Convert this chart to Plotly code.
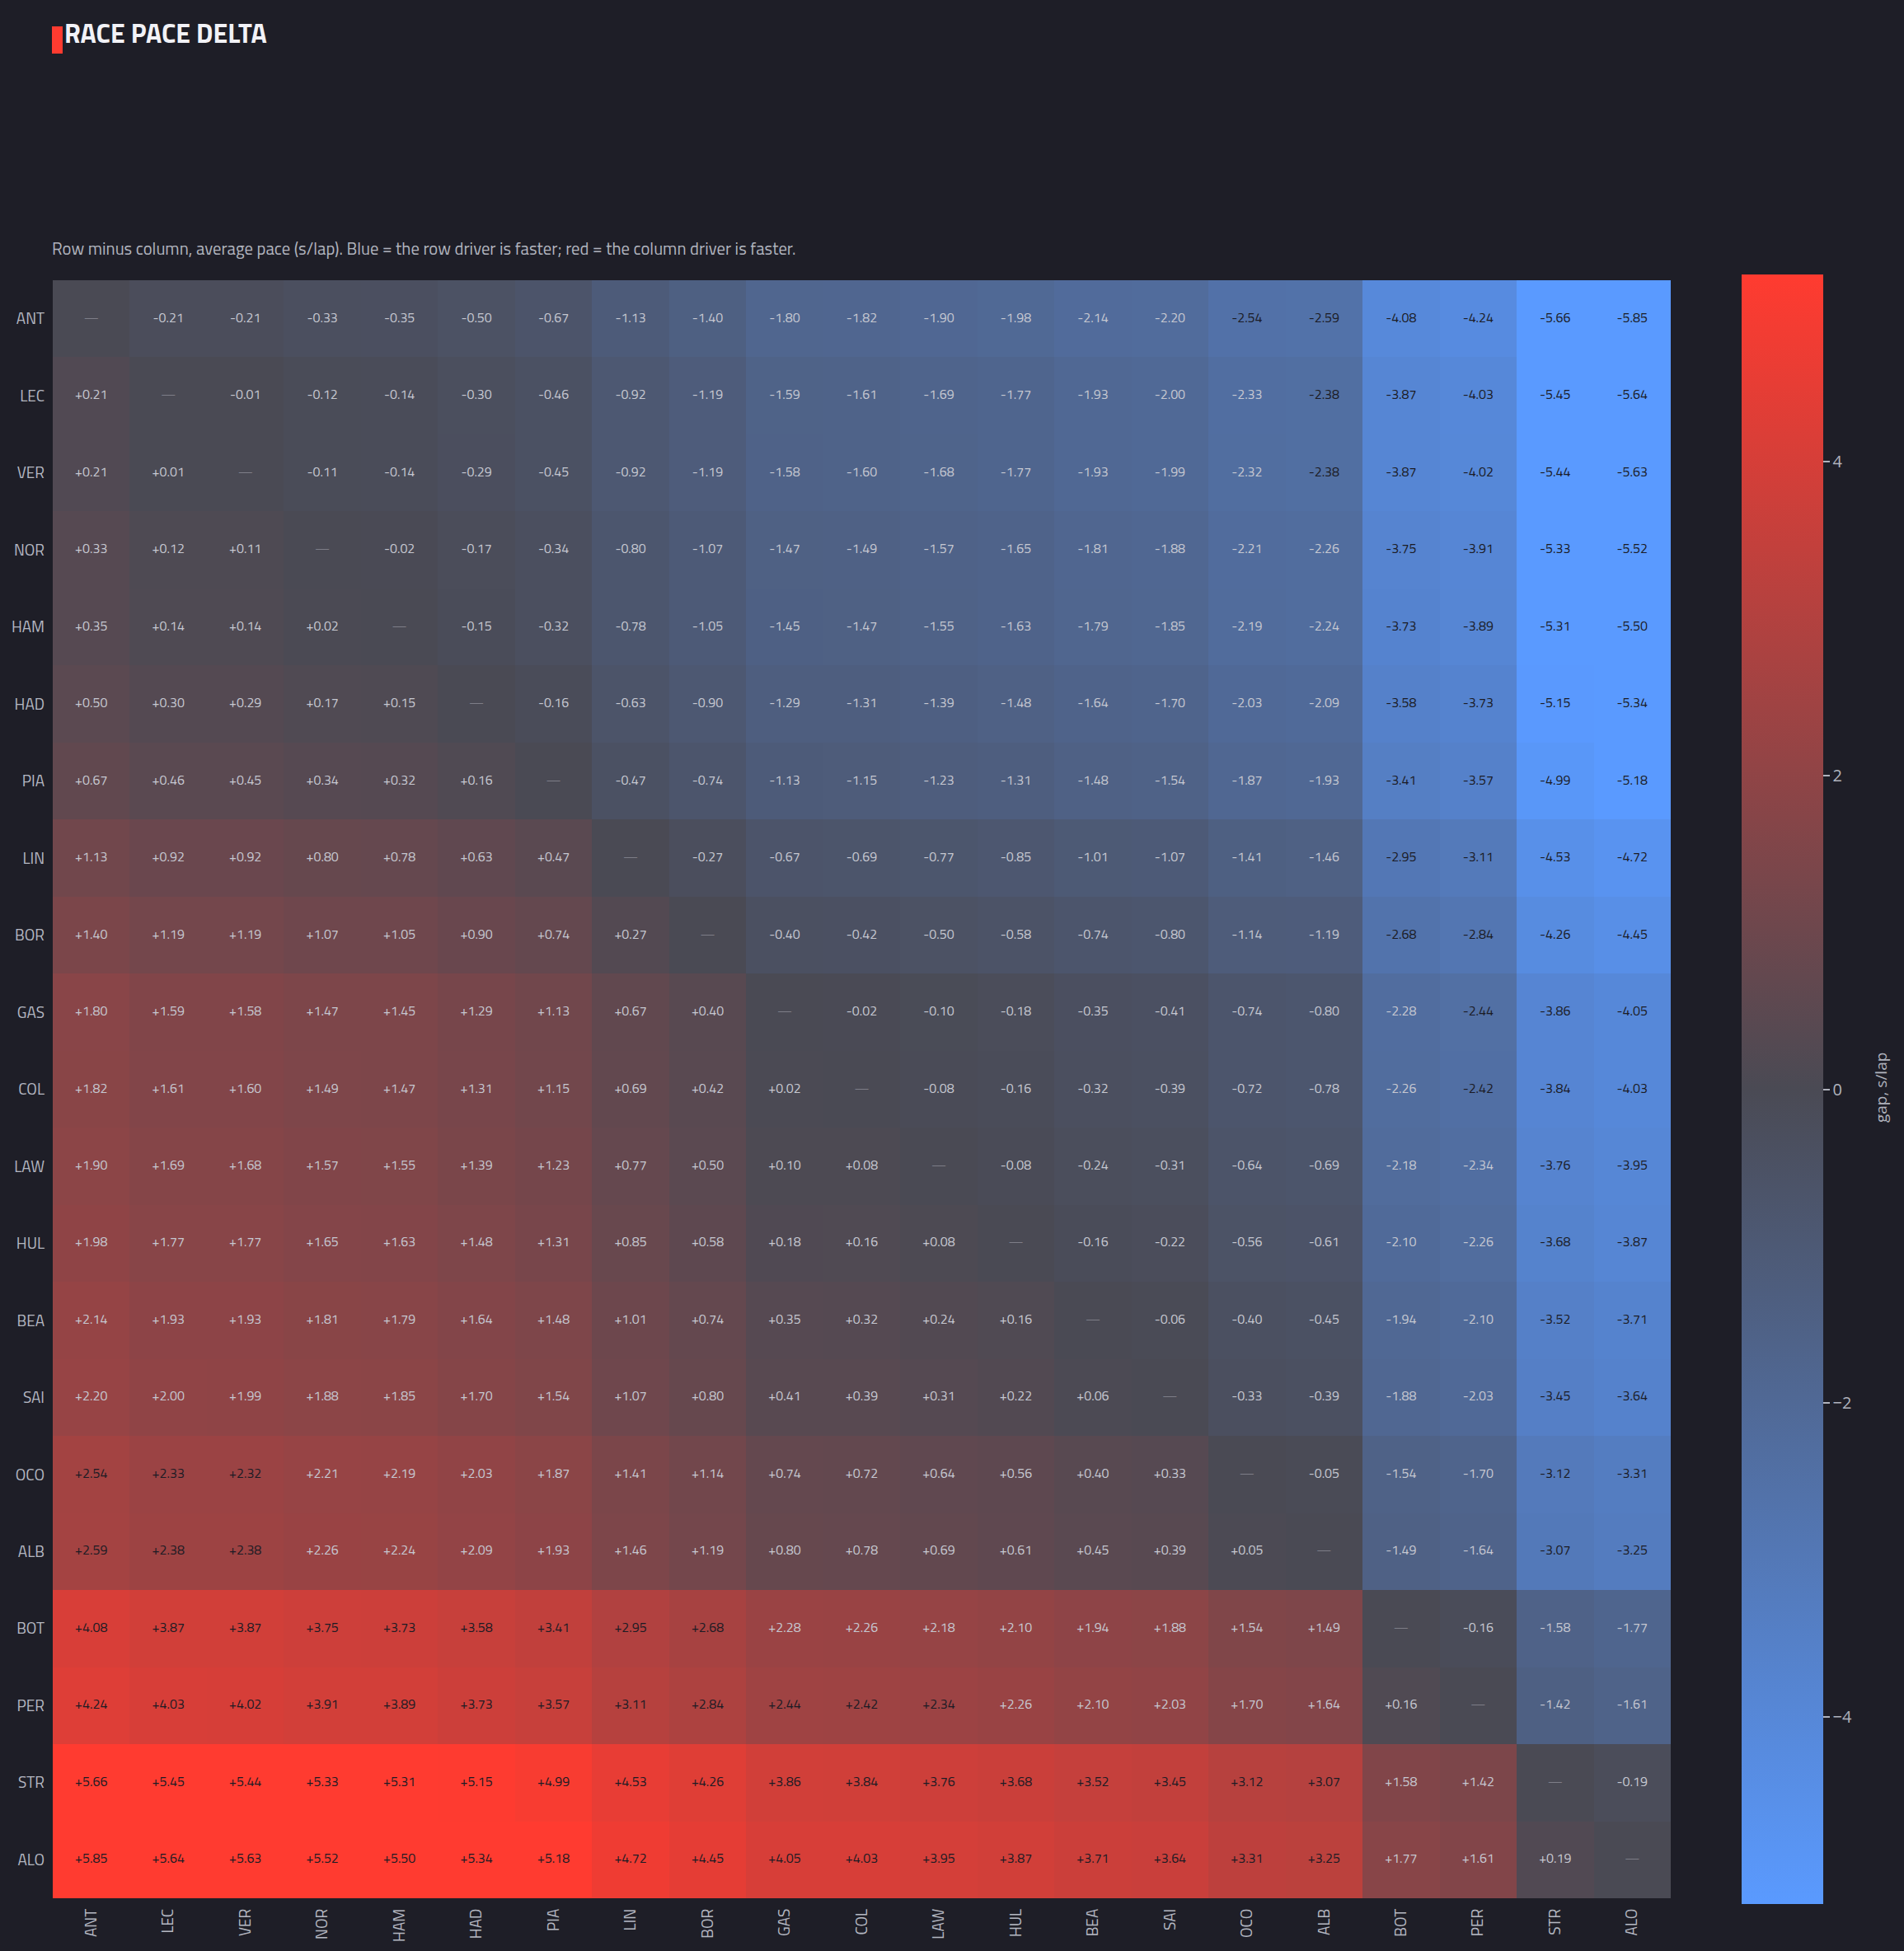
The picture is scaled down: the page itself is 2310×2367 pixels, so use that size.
import plotly.graph_objects as go

drivers = ["ANT", "LEC", "VER", "NOR", "HAM", "HAD", "PIA", "LIN", "BOR", "GAS", "COL",
           "LAW", "HUL", "BEA", "SAI", "OCO", "ALB", "BOT", "PER", "STR", "ALO"]

# Upper triangle (row minus column), row i, columns i+1 .. end
upper = [
    [-0.21, -0.21, -0.33, -0.35, -0.50, -0.67, -1.13, -1.40, -1.80, -1.82, -1.90, -1.98, -2.14, -2.20, -2.54, -2.59, -4.08, -4.24, -5.66, -5.85],
    [-0.01, -0.12, -0.14, -0.30, -0.46, -0.92, -1.19, -1.59, -1.61, -1.69, -1.77, -1.93, -2.00, -2.33, -2.38, -3.87, -4.03, -5.45, -5.64],
    [-0.11, -0.14, -0.29, -0.45, -0.92, -1.19, -1.58, -1.60, -1.68, -1.77, -1.93, -1.99, -2.32, -2.38, -3.87, -4.02, -5.44, -5.63],
    [-0.02, -0.17, -0.34, -0.80, -1.07, -1.47, -1.49, -1.57, -1.65, -1.81, -1.88, -2.21, -2.26, -3.75, -3.91, -5.33, -5.52],
    [-0.15, -0.32, -0.78, -1.05, -1.45, -1.47, -1.55, -1.63, -1.79, -1.85, -2.19, -2.24, -3.73, -3.89, -5.31, -5.50],
    [-0.16, -0.63, -0.90, -1.29, -1.31, -1.39, -1.48, -1.64, -1.70, -2.03, -2.09, -3.58, -3.73, -5.15, -5.34],
    [-0.47, -0.74, -1.13, -1.15, -1.23, -1.31, -1.48, -1.54, -1.87, -1.93, -3.41, -3.57, -4.99, -5.18],
    [-0.27, -0.67, -0.69, -0.77, -0.85, -1.01, -1.07, -1.41, -1.46, -2.95, -3.11, -4.53, -4.72],
    [-0.40, -0.42, -0.50, -0.58, -0.74, -0.80, -1.14, -1.19, -2.68, -2.84, -4.26, -4.45],
    [-0.02, -0.10, -0.18, -0.35, -0.41, -0.74, -0.80, -2.28, -2.44, -3.86, -4.05],
    [-0.08, -0.16, -0.32, -0.39, -0.72, -0.78, -2.26, -2.42, -3.84, -4.03],
    [-0.08, -0.24, -0.31, -0.64, -0.69, -2.18, -2.34, -3.76, -3.95],
    [-0.16, -0.22, -0.56, -0.61, -2.10, -2.26, -3.68, -3.87],
    [-0.06, -0.40, -0.45, -1.94, -2.10, -3.52, -3.71],
    [-0.33, -0.39, -1.88, -2.03, -3.45, -3.64],
    [-0.05, -1.54, -1.70, -3.12, -3.31],
    [-1.49, -1.64, -3.07, -3.25],
    [-0.16, -1.58, -1.77],
    [-1.42, -1.61],
    [-0.19],
]

colorbar_ticks = [-4, -2, 0, 2, 4]

BG = "#1e1e27"
FONT = "Titillium Web, Liberation Sans Narrow, Roboto Condensed, Arial Narrow, Roboto, sans-serif"
LIGHT_TXT = "#c6c8d1"
DARK_TXT = "#1b1b24"
DIAG_TXT = "#7e7e88"
AXIS_TXT = "#b5b8c2"

n = len(drivers)
z = [[0.0] * n for _ in range(n)]
for i in range(n):
    for k, v in enumerate(upper[i] if i < len(upper) else []):
        j = i + 1 + k
        z[i][j] = v
        z[j][i] = -v

tx, ty, tt, tc = [], [], [], []
for i in range(n):
    for j in range(n):
        tx.append(drivers[j])
        ty.append(drivers[i])
        if i == j:
            tt.append("—")
            tc.append(DIAG_TXT)
        else:
            v = z[i][j]
            tt.append(f"{v:+.2f}")
            tc.append(DARK_TXT if (v >= 2.30 or v <= -2.35) else LIGHT_TXT)

fig = go.Figure()
fig.add_trace(go.Heatmap(
    z=z, x=drivers, y=drivers,
    zmin=-5.19, zmax=5.19,
    colorscale=[[0.0, "#5a9aff"], [0.5, "#4a4a54"], [1.0, "#ff3b30"]],
    hoverinfo="skip",
    colorbar=dict(
        x=1.0438, xanchor="left", xpad=0, y=0.5, yanchor="middle",
        len=1.007, ypad=0, thickness=99, outlinewidth=0,
        ticks="outside", ticklen=8, tickwidth=2, tickcolor="#b0b3bd",
        tickvals=colorbar_ticks,
        tickfont=dict(family="Open Sans", size=20, color="#b0b3bd"),
    ),
))
fig.add_trace(go.Scatter(
    x=tx, y=ty, mode="text", text=tt,
    textfont=dict(family=FONT, size=16, color=tc),
    hoverinfo="skip", showlegend=False,
))

fig.update_layout(
    width=2310, height=2367,
    paper_bgcolor=BG, plot_bgcolor=BG,
    margin=dict(l=64, r=283, t=340, b=64, autoexpand=False),
    font=dict(family=FONT, color=AXIS_TXT),
    title=dict(text="<b>RACE PACE DELTA</b>", x=78 / 2310, xanchor="left",
               y=1 - 41 / 2367, yanchor="middle", yref="container",
               font=dict(family=FONT, size=32, color="#f2f2f7")),
    xaxis=dict(type="category", tickangle=-90, showgrid=False, zeroline=False,
               ticks="", tickfont=dict(family=FONT, size=19, color=AXIS_TXT),
               ticklabelstandoff=8,
               showline=False, automargin=False, range=[-0.5, n - 0.5]),
    yaxis=dict(type="category", showgrid=False, zeroline=False,
               ticks="", tickfont=dict(family=FONT, size=19, color=AXIS_TXT),
               ticklabelstandoff=9,
               showline=False, automargin=False, range=[n - 0.5, -0.5]),
    shapes=[dict(type="rect", xref="paper", yref="paper",
                 x0=(63 - 64) / 1963, x1=(76 - 64) / 1963,
                 y0=(2303 - 65) / 1963, y1=(2303 - 32) / 1963,
                 fillcolor="#ff3b30", line=dict(width=0))],
    annotations=[
        dict(text="Row minus column, average pace (s/lap). Blue = the row driver is faster; red = the column driver is faster.",
             xref="paper", yref="paper", x=-3 / 1963, y=(2303 - 302) / 1963,
             xanchor="left", yanchor="middle", showarrow=False,
             font=dict(family=FONT, size=20.7, color="#b0b3bd")),
        dict(text="gap, s/lap", textangle=-90,
             xref="paper", yref="paper", x=(2282 - 64) / 1963, y=(2303 - 1320) / 1963,
             xanchor="center", yanchor="middle", showarrow=False,
             font=dict(family="Open Sans", size=19, color="#b0b3bd")),
    ],
)

fig.write_html("out.html")
